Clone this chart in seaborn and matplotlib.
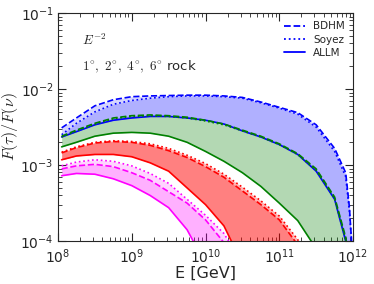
import numpy as np
import pandas as pd
import matplotlib
matplotlib.use('Agg')
import matplotlib.pyplot as plt
import seaborn as sns

sns.set_style('ticks')
plt.rcParams['font.family'] = ['DejaVu Sans']
plt.rcParams['mathtext.fontset'] = 'cm'

# log10(E / GeV) grid
log_E = [8.05, 8.25, 8.5, 8.75, 9.0, 9.25, 9.5, 9.75, 10.0, 10.25, 10.5,
         10.75, 11.0, 11.25, 11.5, 11.75, 11.9, 11.95, 12.0]

# log10 of F(tau)/F(nu), per angle and cross-section model
blue_bdhm = [-2.51, -2.38, -2.22, -2.14, -2.10, -2.09, -2.085, -2.08, -2.08, -2.09, -2.11,
             -2.17, -2.24, -2.31, -2.47, -2.78, -3.10, -3.55, -4.3]
blue_soyez = [-2.60, -2.45, -2.30, -2.20, -2.15, -2.12, -2.10, -2.09, -2.09, -2.10, -2.12,
              -2.18, -2.25, -2.33, -2.50, -2.82, -3.15, -3.60, -4.3]
blue_allm = [-2.63, -2.56, -2.47, -2.41, -2.38, -2.36, -2.36, -2.38, -2.41, -2.46, -2.55,
             -2.63, -2.73, -2.86, -3.08, -3.45, -4.0, -4.3, -4.5]

green_bdhm = [-2.62, -2.54, -2.45, -2.38, -2.35, -2.34, -2.35, -2.37, -2.41, -2.46, -2.54,
              -2.62, -2.72, -2.85, -3.05, -3.42, -3.95, -4.3, -4.5]
green_soyez = [-2.63, -2.55, -2.46, -2.39, -2.36, -2.35, -2.36, -2.38, -2.42, -2.47, -2.55,
               -2.63, -2.73, -2.86, -3.07, -3.44, -3.98, -4.3, -4.5]
green_allm = [-2.76, -2.70, -2.62, -2.58, -2.57, -2.58, -2.62, -2.70, -2.82, -2.95, -3.10,
              -3.28, -3.50, -3.73, -4.10, -4.5, -4.6, -4.6, -4.6]

red_bdhm = [-2.84, -2.77, -2.71, -2.69, -2.70, -2.74, -2.81, -2.90, -3.02, -3.16, -3.34,
            -3.52, -3.72, -4.05, -4.5, -4.6, -4.6, -4.6, -4.6]
red_soyez = [-2.83, -2.76, -2.70, -2.68, -2.69, -2.72, -2.78, -2.87, -2.98, -3.12, -3.29,
             -3.47, -3.67, -3.98, -4.5, -4.6, -4.6, -4.6, -4.6]
red_allm = [-2.93, -2.88, -2.86, -2.86, -2.89, -2.97, -3.08, -3.30, -3.52, -3.80, -4.3,
            -4.6, -4.6, -4.6, -4.6, -4.6, -4.6, -4.6, -4.6]

mag_bdhm = [-3.05, -3.01, -2.99, -3.02, -3.10, -3.20, -3.35, -3.50, -3.72, -4.02, -4.4,
            -4.6, -4.6, -4.6, -4.6, -4.6, -4.6, -4.6, -4.6]
mag_soyez = [-3.01, -2.96, -2.93, -2.95, -3.01, -3.11, -3.24, -3.45, -3.66, -3.90, -4.3,
             -4.6, -4.6, -4.6, -4.6, -4.6, -4.6, -4.6, -4.6]
mag_allm = [-3.14, -3.11, -3.12, -3.18, -3.27, -3.40, -3.56, -3.85, -4.3, -4.5, -4.6,
            -4.6, -4.6, -4.6, -4.6, -4.6, -4.6, -4.6, -4.6]

angles = {
    'blue': (blue_bdhm, blue_soyez, blue_allm),
    'green': (green_bdhm, green_soyez, green_allm),
    'red': (red_bdhm, red_soyez, red_allm),
    'magenta': (mag_bdhm, mag_soyez, mag_allm),
}
fill_alpha = {'blue': 0.17, 'green': 0.16, 'red': 0.29, 'magenta': 0.17}

E = 10 ** np.array(log_E)

fig = plt.figure(figsize=(3.74, 2.84), dpi=100)
ax = fig.add_axes([0.155, 0.151, 0.789, 0.803])

for col, (bd, so, al) in angles.items():
    bd, so, al = 10 ** np.array(bd), 10 ** np.array(so), 10 ** np.array(al)
    ax.fill_between(E, al, bd, color=col, alpha=fill_alpha[col], lw=0)
    ax.fill_between(E, al, so, color=col, alpha=fill_alpha[col], lw=0)
    df = pd.DataFrame({'E': E, 'bdhm': bd, 'soyez': so, 'allm': al})
    sns.lineplot(data=df, x='E', y='bdhm', ax=ax, color=col, ls='--', lw=1.2)
    sns.lineplot(data=df, x='E', y='soyez', ax=ax, color=col, ls=':', lw=1.2)
    sns.lineplot(data=df, x='E', y='allm', ax=ax, color=col, ls='-', lw=1.2)

ax.set_xscale('log')
ax.set_yscale('log')
ax.set_xlim(1e8, 1e12)
ax.set_ylim(1e-4, 1e-1)
ax.set_xlabel('E [GeV]', fontsize=11.5, labelpad=0)
ax.set_ylabel(r'$F(\tau)/F(\nu)$', fontsize=11.5, labelpad=0)
ax.tick_params(which='both', direction='in', top=True, right=True, labelsize=10, pad=3)
ax.tick_params(axis='x', which='both', pad=4.5)
ax.tick_params(which='major', length=6)
ax.tick_params(which='minor', length=3)

ax.text(0.08, 0.86, r'$E^{-2}$', transform=ax.transAxes, fontsize=9.5)
ax.text(0.08, 0.75, r'$1^{\circ},\ 2^{\circ},\ 4^{\circ},\ 6^{\circ}$ rock',
        transform=ax.transAxes, fontsize=9.5)

handles = [plt.Line2D([], [], color='blue', ls='--', lw=1.3),
           plt.Line2D([], [], color='blue', ls=':', lw=1.3),
           plt.Line2D([], [], color='blue', ls='-', lw=1.3)]
ax.legend(handles, ['BDHM', 'Soyez', 'ALLM'], loc='upper right', frameon=False,
          fontsize=7.5, handlelength=2.0, borderaxespad=0.4, labelspacing=0.3)

fig.savefig('out.png', dpi=100)
